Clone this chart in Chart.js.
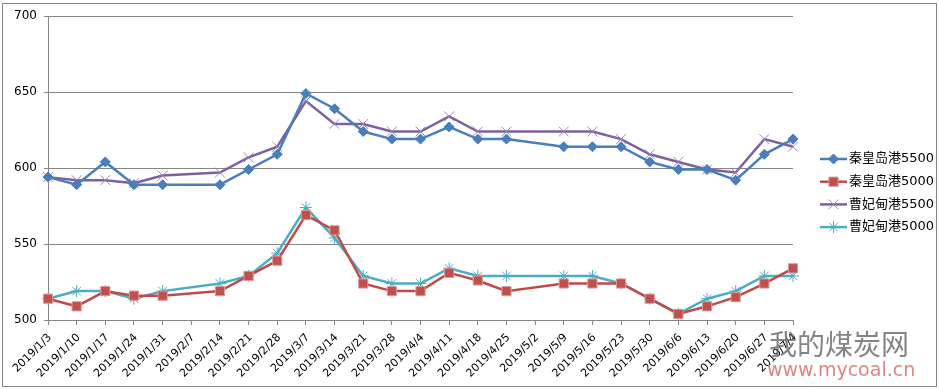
<!DOCTYPE html>
<html>
<head>
<meta charset="utf-8">
<script src="https://cdn.jsdelivr.net/npm/chart.js@4.4.1/dist/chart.umd.min.js"></script>
<style>
    html, body { margin: 0; padding: 0; background: #fff; }
    #wrap { width: 939px; height: 389px; }
</style>
</head>
<body>
<div id="wrap"><canvas id="priceChart" width="939" height="389"></canvas></div>
<script>
// weekly dates on the x axis (no data on 2/7 and 5/2)
const dates = ['2019/1/3', '2019/1/10', '2019/1/17', '2019/1/24', '2019/1/31', '2019/2/7', '2019/2/14',
    '2019/2/21', '2019/2/28', '2019/3/7', '2019/3/14', '2019/3/21', '2019/3/28', '2019/4/4', '2019/4/11',
    '2019/4/18', '2019/4/25', '2019/5/2', '2019/5/9', '2019/5/16', '2019/5/23', '2019/5/30', '2019/6/6',
    '2019/6/13', '2019/6/20', '2019/6/27', '2019/7/4'];

const qhd5500 = [594, 589, 604, 589, 589, null, 589, 599, 609, 649, 639, 624, 619, 619, 627,
    619, 619, null, 614, 614, 614, 604, 599, 599, 592, 609, 619];
const qhd5000 = [514, 509, 519, 516, 516, null, 519, 529, 539, 569, 559, 524, 519, 519, 531,
    526, 519, null, 524, 524, 524, 514, 504, 509, 515, 524, 534];
const cfd5500 = [594, 592, 592, 590, 595, null, 597, 607, 614, 644, 629, 629, 624, 624, 634,
    624, 624, null, 624, 624, 619, 609, 604, 599, 597, 619, 614];
const cfd5000 = [514, 519, 519, 514, 519, null, 524, 529, 544, 574, 554, 529, 524, 524, 534,
    529, 529, null, 529, 529, 524, 514, 504, 514, 519, 529, 529];

const seriesNames = ['秦皇岛港5500', '秦皇岛港5000', '曹妃甸港5500', '曹妃甸港5000'];

const gridGray = '#868686';

// frame around the whole chart + watermark
const frame = {
    id: 'frame',
    beforeDraw(chart) {
        const ctx = chart.ctx;
        ctx.save();
        ctx.fillStyle = '#fff';
        ctx.fillRect(0, 0, chart.width, chart.height);
        ctx.strokeStyle = gridGray;
        ctx.lineWidth = 1;
        ctx.strokeRect(2.5, 3.5, 934, 383);
        ctx.restore();
    },
    afterDraw(chart) {
        const ctx = chart.ctx;
        ctx.save();
        ctx.textBaseline = 'middle';
        ctx.textAlign = 'left';
        ctx.fillStyle = 'rgba(110,110,110,0.85)';
        ctx.font = '28px "Noto Sans CJK SC"';
        ctx.fillText('我的煤炭网', 769, 344, 149);
        ctx.fillStyle = 'rgba(215,110,110,0.85)';
        ctx.font = '19px "DejaVu Sans"';
        ctx.fillText('www.mycoal.cn', 767, 371, 151);
        ctx.restore();
    }
};

// legend on the right: line sample with marker, then the name
const sideLegend = {
    id: 'sideLegend',
    afterDraw(chart) {
        const ctx = chart.ctx;
        ctx.save();
        chart.data.datasets.forEach(function (ds, i) {
            const y = 159 + i * 22.7;
            ctx.strokeStyle = ds.borderColor;
            ctx.lineWidth = ds.borderWidth;
            ctx.beginPath();
            ctx.moveTo(820, y);
            ctx.lineTo(847, y);
            ctx.stroke();
            ctx.fillStyle = ds.pointBackgroundColor;
            ctx.strokeStyle = ds.pointBorderColor;
            ctx.lineWidth = ds.pointBorderWidth;
            Chart.helpers.drawPoint(ctx, {
                pointStyle: ds.pointStyle,
                radius: ds.pointRadius,
                rotation: 0,
                borderWidth: ds.pointBorderWidth
            }, 833.5, y);
            ctx.fillStyle = '#000';
            ctx.font = '13px "DejaVu Sans", "Noto Sans CJK SC"';
            ctx.textBaseline = 'middle';
            ctx.fillText(ds.label, 849, y);
        });
        ctx.restore();
    }
};

const ctx = document.getElementById('priceChart').getContext('2d');
new Chart(ctx, {
    type: 'line',
    data: {
        labels: dates,
        datasets: [{
            label: seriesNames[0],
            data: qhd5500,
            borderColor: '#4A7EBB',
            borderWidth: 2.5,
            pointStyle: 'rectRot',
            pointRadius: 5,
            pointBackgroundColor: '#4A7EBB',
            pointBorderColor: '#4A7EBB',
            pointBorderWidth: 1,
        }, {
            label: seriesNames[1],
            data: qhd5000,
            borderColor: '#BE4B48',
            borderWidth: 2.5,
            pointStyle: 'rect',
            pointRadius: 6.5,
            pointBackgroundColor: '#C0504D',
            pointBorderColor: '#D99A98',
            pointBorderWidth: 1,
        }, {
            label: seriesNames[2],
            data: cfd5500,
            borderColor: '#7D60A0',
            borderWidth: 2.5,
            pointStyle: 'crossRot',
            pointRadius: 7,
            pointBackgroundColor: '#9C86BA',
            pointBorderColor: '#9C86BA',
            pointBorderWidth: 1,
        }, {
            label: seriesNames[3],
            data: cfd5000,
            borderColor: '#4BACC6',
            borderWidth: 2.5,
            pointStyle: 'star',
            pointRadius: 6,
            pointBackgroundColor: '#4BACC6',
            pointBorderColor: '#4BACC6',
            pointBorderWidth: 1,
        }]
    },
    options: {
        responsive: false,
        animation: false,
        spanGaps: true,
        layout: {
            padding: { left: 0, top: 16, right: 146, bottom: 0 }
        },
        scales: {
            x: {
                offset: false,
                afterFit: function (scale) { scale.height = 69; },
                grid: {
                    drawOnChartArea: false,
                    drawTicks: true,
                    tickLength: 5,
                    color: gridGray,
                },
                border: { color: gridGray, width: 1 },
                ticks: {
                    autoSkip: false,
                    maxRotation: 45,
                    minRotation: 45,
                    padding: 6,
                    labelOffset: 2,
                    color: '#000',
                    font: { family: '"DejaVu Sans"', size: 11 },
                }
            },
            y: {
                min: 500,
                max: 700,
                afterFit: function (scale) { scale.width = 48; },
                grid: {
                    color: gridGray,
                    drawTicks: true,
                    tickLength: 4,
                },
                border: { color: gridGray, width: 1 },
                ticks: {
                    stepSize: 50,
                    padding: 7,
                    color: '#000',
                    font: { family: '"DejaVu Sans"', size: 12 },
                }
            }
        },
        plugins: {
            legend: { display: false },
            tooltip: { enabled: false },
        }
    },
    plugins: [frame, sideLegend]
});
</script>
</body>
</html>
